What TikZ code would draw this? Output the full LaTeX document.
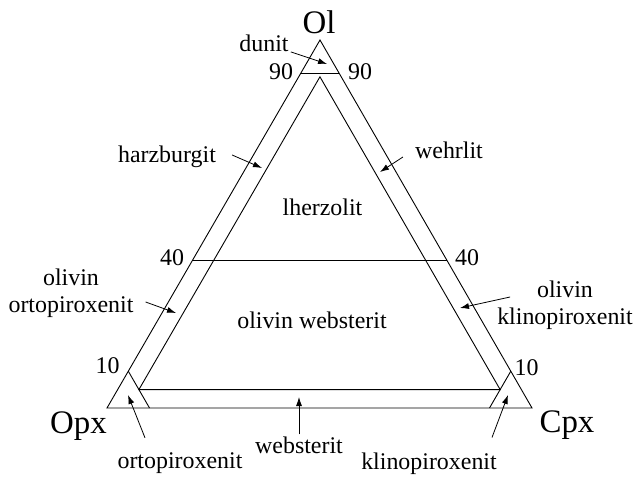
\documentclass[tikz,border=0pt]{standalone}
\usepackage{fontspec}
\setmainfont{Liberation Serif}
\usetikzlibrary{arrows.meta}

\begin{document}
\begin{tikzpicture}[
  x=1bp, y=-1bp,
  lbl/.style={inner sep=2bp, align=center, font={\fontsize{24}{27}\selectfont}},
  apex/.style={inner sep=2bp, font={\fontsize{33}{36}\selectfont}},
  tri/.style={line width=0.9bp, line join=miter},
  arr/.style={line width=0.8bp, -{Latex[length=9bp, width=6bp]}}
]
\useasboundingbox (0,0) rectangle (636,479);

\coordinate (ol) at (320,40);
\coordinate (opx) at (107,408);
\coordinate (cpx) at (532,408);

\draw[tri] (ol) -- (opx) -- (cpx) -- cycle;
\draw[tri] (barycentric cs:ol=.9,opx=.05,cpx=.05) -- (barycentric cs:ol=.05,opx=.9,cpx=.05)
  -- (barycentric cs:ol=.05,opx=.05,cpx=.9) -- cycle;
\draw[tri] (barycentric cs:ol=.91,opx=.09,cpx=0) -- (barycentric cs:ol=.91,opx=0,cpx=.09);
\draw[tri] (barycentric cs:ol=.4,opx=.6,cpx=0) -- (barycentric cs:ol=.4,opx=0,cpx=.6);
\draw[tri] (barycentric cs:ol=.1,opx=.9,cpx=0) -- (barycentric cs:ol=0,opx=.9,cpx=.1);
\draw[tri] (barycentric cs:ol=.1,opx=0,cpx=.9) -- (barycentric cs:ol=0,opx=.1,cpx=.9);

\node[apex] (ollab) at (319,22.5) {Ol};
\node[apex] (opxlab) at (78.5,426) {Opx};
\node[apex] (cpxlab) at (567,425) {Cpx};

\node[lbl] (l90) at (281,71.5) {90};
\node[lbl] (r90) at (360,71.5) {90};
\node[lbl] (l40) at (172,257.5) {40};
\node[lbl] (r40) at (467,257.5) {40};
\node[lbl] (l10) at (107.5,366) {10};
\node[lbl] (r10) at (526.5,367.5) {10};

\node[lbl] (dun) at (264,43) {dunit};
\node[lbl] (harz) at (167,157) {harzburgit};
\node[lbl] (wehr) at (449,150) {wehrlit};
\node[lbl] (lherz) at (322.5,207) {lherzolit};
\node[lbl] (olweb) at (312,320) {olivin websterit};
\node[lbl] (olort) at (71,293) {olivin\\ortopiroxenit};
\node[lbl] (olkl) at (565,305) {olivin\\klinopiroxenit};
\node[lbl] (ort) at (180,463.5) {ortopiroxenit};
\node[lbl] (web) at (299,445) {websterit};
\node[lbl] (kl) at (429,463.5) {klinopiroxenit};

\coordinate (dun-t) at (327,64);
\coordinate (harz-t) at (262,168);
\coordinate (wehr-t) at (380,172);
\coordinate (olort-t) at (176,313);
\coordinate (olkl-t) at (460,308);
\coordinate (ort-t) at (128,395);
\coordinate (web-t) at (299,397);
\coordinate (kl-t) at (508,395);

\draw[arr] (dun) -- (dun-t);
\draw[arr] ([shift={(14,-2)}]harz.east) -- (harz-t);
\draw[arr] ([shift={(-10,7)}]wehr.west) -- (wehr-t);
\draw[arr] ([shift={(10,9)}]olort.east) -- (olort-t);
\draw[arr] ([shift={(15,-8)}]olkl.west) -- (olkl-t);
\draw[arr] ([shift={(-35,-13)}]ort.north) -- (ort-t);
\draw[arr] (web.north) -- (web-t);
\draw[arr] ([shift={(63,-13)}]kl.north) -- (kl-t);
\end{tikzpicture}
\end{document}
